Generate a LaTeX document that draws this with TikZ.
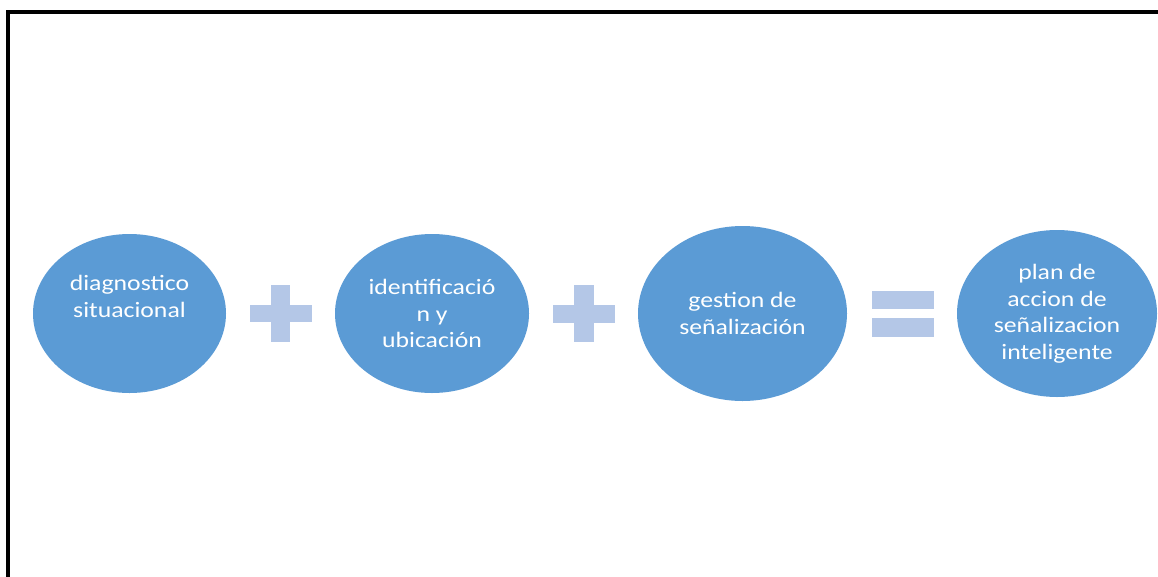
\documentclass[tikz,border=0pt]{standalone}
\usepackage{fontspec}
\setmainfont{Carlito}[FakeStretch=1.17]
\usetikzlibrary{shapes.geometric}
\definecolor{ellblue}{HTML}{5B9BD5}
\definecolor{oplight}{HTML}{B4C7E7}
\begin{document}
\begin{tikzpicture}[x=1pt,y=-1pt,
  bubble/.style={ellipse, fill=ellblue, draw=none, text=white, inner sep=0pt,
    align=center, font=\fontsize{22}{26.5}\selectfont},
  opshape/.style={fill=oplight, draw=none},
  frameline/.style={line width=3.8pt, draw=black, line join=miter}]
\useasboundingbox (0,0) rectangle (1158,576);
\fill[white] (0,0) rectangle (1158,576);
\draw[frameline] (8,578) -- (8,12.2) -- (1160,12.2);
% bubbles
\node[bubble, minimum width=193pt, minimum height=159pt] (diag) at (129.5,313.5)
  {diagnostico\\situacional\\\strut};
\node[bubble, minimum width=194pt, minimum height=159pt] (ident) at (432,313.5)
  {identificació\\n y\\ubicación};
\node[bubble, minimum width=209pt, minimum height=175pt] (gest) at (742.5,313.5)
  {gestion de\\señalización};
\node[bubble, minimum width=200pt, minimum height=167pt] (plan) at (1057,313.5)
  {plan de\\accion de\\señalizacion\\inteligente};
% plus 1
\fill[opshape] (250,305) rectangle (312,322);
\fill[opshape] (271,285) rectangle (290,342);
% plus 2
\fill[opshape] (553,305) rectangle (615,323);
\fill[opshape] (574,285) rectangle (594,342);
% equals
\fill[opshape] (872,291) rectangle (934,309);
\fill[opshape] (872,318) rectangle (934,337);
\end{tikzpicture}
\end{document}
